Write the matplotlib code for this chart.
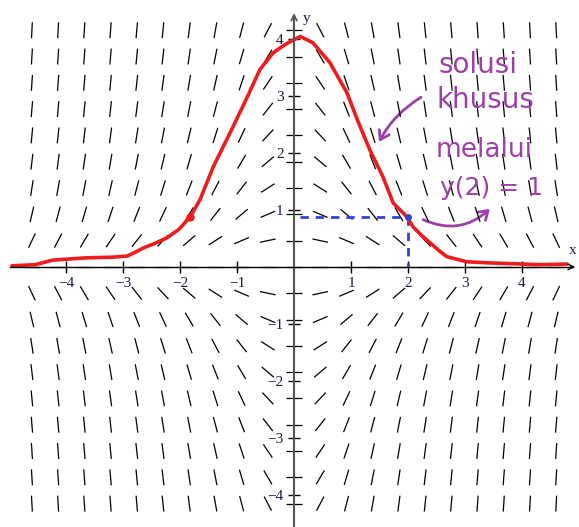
import numpy as np
import matplotlib
matplotlib.use("Agg")
import matplotlib.pyplot as plt
from matplotlib.collections import LineCollection
from matplotlib.patches import FancyArrowPatch

# hand drawn particular solution
curve_x = [-4.95, -4.54, -4.23, -3.63, -3.20, -2.93, -2.80, -2.65, -2.45, -2.23,
           -2.02, -1.82, -1.65, -1.42, -1.07, -0.82, -0.60, -0.37, -0.20, -0.07,
           0.11, 0.33, 0.63, 0.93, 1.11, 1.33, 1.56, 1.74, 1.98, 2.09, 2.25,
           2.39, 2.55, 2.68, 3.03, 3.44, 4.32, 4.79]
curve_y = [0.02, 0.04, 0.12, 0.16, 0.17, 0.19, 0.25, 0.33, 0.41, 0.51,
           0.66, 0.88, 1.18, 1.75, 2.46, 2.98, 3.46, 3.75, 3.87, 3.95,
           4.04, 3.93, 3.58, 3.05, 2.58, 2.05, 1.58, 1.12, 0.88, 0.70, 0.54,
           0.42, 0.28, 0.18, 0.09, 0.07, 0.04, 0.05]

# initial condition marker y(2) ~ 1
x0, y0 = 2.0, 0.88

tick_vals = [-4, -3, -2, -1, 1, 2, 3, 4]
notes = ["solusi", "khusus", "melalui", "y(2) = 1"]


def slope(x, y):
    # direction field dy/dx = -x*y
    return -x * y


fig = plt.figure(figsize=(5.79, 5.27), dpi=100)
ax = fig.add_axes([0, 0, 1, 1])
ax.set_xlim(-5.16, 5.0)
ax.set_ylim(-4.56, 4.68)

# slope field
gx = np.linspace(-4.6, 4.6, 21)
gy = np.linspace(-4.15, 4.15, 19)
half = 0.14
segs = []
for xx in gx:
    for yy in gy:
        th = np.arctan(slope(xx, yy))
        dx, dy = half * np.cos(th), half * np.sin(th)
        segs.append([(xx - dx, yy - dy), (xx + dx, yy + dy)])
ax.add_collection(LineCollection(segs, colors="black", linewidths=0.9))

# axes
for s in ["top", "right"]:
    ax.spines[s].set_visible(False)
ax.spines["left"].set_position(("data", 0))
ax.spines["bottom"].set_position(("data", 0))
ax.spines["bottom"].set_bounds(-4.98, 4.9)
ax.spines["left"].set_bounds(-4.56, 4.4)
ax.spines["left"].set_color("#555555")
ax.spines["left"].set_linewidth(1.5)
ax.spines["bottom"].set_linewidth(1.0)
ax.annotate("", xy=(4.98, 0), xytext=(4.8, 0),
            arrowprops=dict(arrowstyle="->", color="black", lw=1.0))
ax.annotate("", xy=(0, 4.5), xytext=(0, 4.3),
            arrowprops=dict(arrowstyle="->", color="#555555", lw=1.3))

ax.set_xticks(tick_vals)
ax.set_yticks(tick_vals)
ax.set_xticklabels([str(v).replace("-", "\u2212") for v in tick_vals])
ax.set_yticklabels([str(v).replace("-", "\u2212") for v in tick_vals])
ax.tick_params(direction="inout", length=9, width=1.0, labelsize=11,
               labelcolor="#1c1c3c", pad=3)
for lab in ax.get_xticklabels() + ax.get_yticklabels():
    lab.set_family("Liberation Serif")

ax.text(4.82, 0.22, "x", fontsize=11, family="Liberation Serif", color="#1c1c3c")
ax.text(0.16, 4.3, "y", fontsize=11, family="Liberation Serif", color="#1c1c3c")

# blue dashed guide to the initial point
ax.plot([0.1, x0], [y0, y0], color="#3344cc", lw=2.0, ls=(0, (3, 2.5)))
ax.plot([x0, x0], [y0, 0], color="#3344cc", lw=2.0, ls=(0, (3, 2.5)))

# red solution curve
ax.plot(curve_x, curve_y, color="#ee1c1c", lw=2.6, solid_capstyle="round",
        solid_joinstyle="round")
ax.plot([-1.82], [0.88], "o", color="#ee1c1c", ms=5)
ax.plot([x0], [y0], "o", color="#3344cc", ms=4)

# handwritten annotations
purple = "#9c3fa6"
ax.text(3.23, 3.54, notes[0], fontsize=20, color=purple, ha="center", va="center")
ax.text(3.35, 2.93, notes[1], fontsize=20, color=purple, ha="center", va="center")
ax.text(3.33, 2.05, notes[2], fontsize=19, color=purple, ha="center", va="center")
ax.text(3.47, 1.39, notes[3], fontsize=18, color=purple, ha="center", va="center")
ax.add_patch(FancyArrowPatch((2.27, 3.0), (1.47, 2.15), connectionstyle="arc3,rad=0.15",
                             arrowstyle="->,head_length=6,head_width=4", color=purple, lw=2.0))
ax.add_patch(FancyArrowPatch((2.22, 0.85), (3.47, 1.05), connectionstyle="arc3,rad=0.35",
                             arrowstyle="->,head_length=6,head_width=4", color=purple, lw=2.0))

fig.savefig("out.png", dpi=100)
